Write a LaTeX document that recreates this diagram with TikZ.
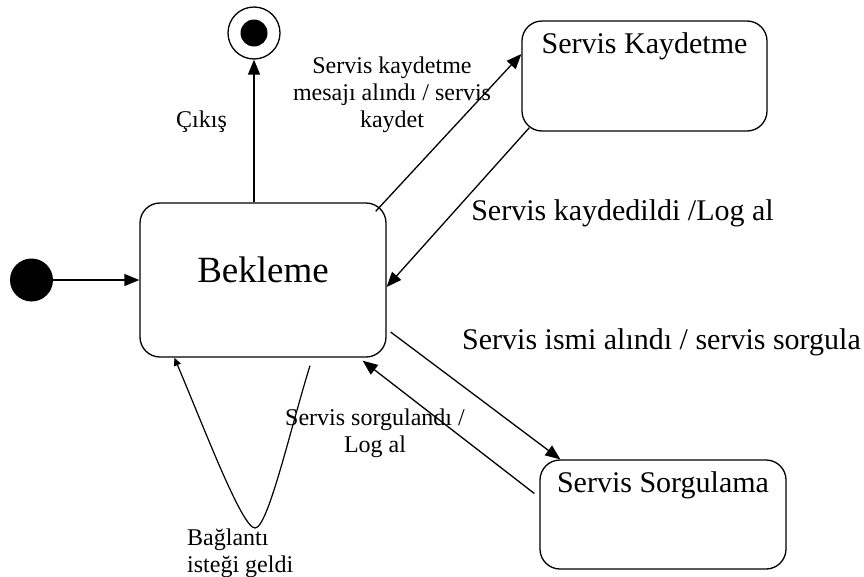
\documentclass[tikz,border=0pt]{standalone}
\usepackage{fontspec}
\setmainfont{Liberation Serif}
\usetikzlibrary{arrows.meta}

\begin{document}
\begin{tikzpicture}[
  x=1pt, y=-1pt,
  state/.style={draw, rounded corners=20pt, line width=1.3pt, inner sep=0pt},
  title/.style={inner sep=0pt, anchor=base, font=\fontsize{30}{36}\selectfont},
  lbl/.style={inner sep=0pt, align=center, font=\fontsize{24}{27}\selectfont},
  biglbl/.style={inner sep=0pt, font=\fontsize{30}{36}\selectfont},
  arr/.style={line width=1.3pt, -{Triangle[length=15pt,width=12pt]}},
  looparr/.style={line width=1.2pt, -{Triangle[length=8pt,width=7pt]}},
  dot/.style={circle, fill, inner sep=0pt}
]
  \useasboundingbox (0,0) rectangle (864,576);

  \node[dot, minimum size=43pt] (init) at (31.5,280) {};
  \node[circle, draw, line width=1.3pt, inner sep=0pt, minimum size=52pt] (final) at (254,33) {};
  \node[dot, minimum size=27pt] (finaldot) at (final) {};

  \node[state, minimum width=246pt, minimum height=154pt,
    label={[title, font=\fontsize{37}{44}\selectfont, yshift=-80pt]north:Bekleme}] (bekleme) at (263,280) {};
  \node[state, minimum width=245pt, minimum height=110pt,
    label={[title, yshift=-33pt]north:Servis Kaydetme}] (kaydetme) at (644.5,76) {};
  \node[state, minimum width=246pt, minimum height=109pt,
    label={[title, yshift=-33pt]north:Servis Sorgulama}] (sorgulama) at (663,514.5) {};

  % transition labels
  \node[lbl, anchor=base] (lbl-cikis) at (201.5,127) {Çıkış};
  \node[lbl] (lbl-kaydet) at (392,94.5) {Servis kaydetme\\mesajı alındı / servis\\kaydet};
  \node[biglbl, anchor=base] (lbl-kaydedildi) at (622.5,220) {Servis kaydedildi /Log al};
  \node[biglbl, anchor=base west] (lbl-isim) at (462,349) {Servis ismi alındı / servis sorgula};
  \node[lbl] (lbl-sorgulandi) at (375,433) {Servis sorgulandı /\\Log al};
  \node[lbl, align=left, anchor=west] (lbl-baglanti) at (187,553) {Bağlantı\\isteği geldi};

  \draw[arr] (init) -- (bekleme.west);
  \draw[arr] ([xshift=-9pt]bekleme.north) -- (final);
  \draw[arr] ([xshift=-11pt,yshift=-9pt]bekleme.north east) -- ([yshift=22pt]kaydetme.west);
  \draw[arr] ([xshift=8pt,yshift=4pt]kaydetme.south west) -- ([yshift=-7pt]bekleme.east);
  \draw[arr] ([xshift=4pt,yshift=-52pt]bekleme.east) -- ([xshift=21pt]sorgulama.north west);
  \draw[arr] ([xshift=-5pt,yshift=21pt]sorgulama.west) -- ([xshift=-24pt,yshift=-3pt]bekleme.south east);
  \draw[looparr] ([xshift=47pt,yshift=-8pt]bekleme.south)
    .. controls (290,430) and (268,528) .. (255,528)
    .. controls (242,528) and (205,430) .. ([xshift=35pt]bekleme.south west);
\end{tikzpicture}
\end{document}
